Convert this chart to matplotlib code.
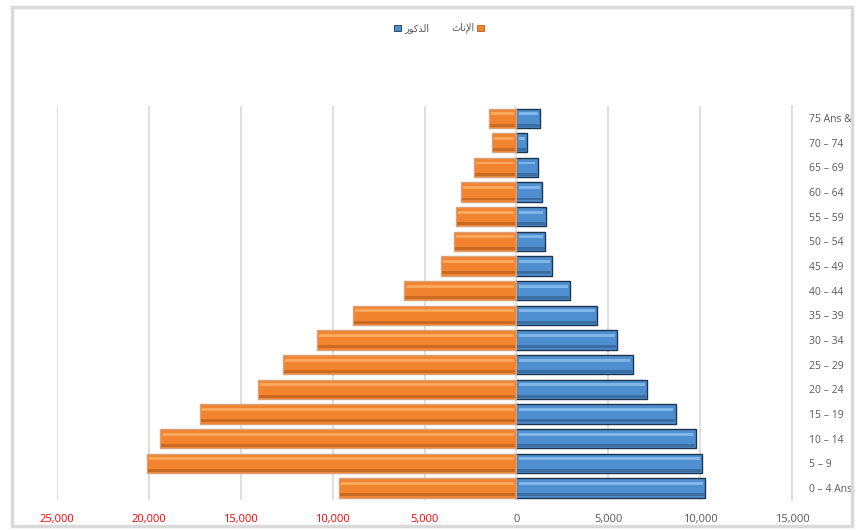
import numpy as np
import matplotlib.pyplot as plt
from matplotlib.patches import Rectangle

plt.rcParams['font.family'] = ['Open Sans', 'DejaVu Sans']

# age groups, bottom to top
ages = ["0 – 4 Ans", "5 – 9", "10 – 14", "15 – 19", "20 – 24", "25 – 29",
        "30 – 34", "35 – 39", "40 – 44", "45 – 49", "50 – 54", "55 – 59",
        "60 – 64", "65 – 69", "70 – 74", "75 Ans &"]
males = [10290, 10110, 9750, 8670, 7130, 6320, 5490, 4390,
         2940, 1950, 1580, 1590, 1400, 1150, 600, 1300]
females = [9640, 20120, 19380, 17210, 14070, 12700, 10870, 8890,
           6100, 4120, 3400, 3290, 3020, 2310, 1320, 1500]
xticks = [-25000, -20000, -15000, -10000, -5000, 0, 5000, 10000, 15000]

# legend labels, shaped arabic (presentation forms, visual order)
lab_m = "\ufead\ufeee\ufedb\ufeac\ufedf\ufe8d"   # الذكور
lab_f = "\ufe99\ufe8e\ufee7\ufef9\ufe8d"         # الإناث

fig = plt.figure(figsize=(8.59, 5.29), dpi=100)
ax = fig.add_axes([0.0664, 0.0543, 0.8556, 0.7457])

y = np.arange(len(ages))
m = np.array(males)
f = -np.array(females)

h = 0.78
blue, blue_hi, blue_dk, blue_ed = "#4f8fd0", "#7fb6e8", "#3b6fa3", "#1c3550"
ora, ora_hi, ora_dk, ora_ed = "#f28430", "#f9a85c", "#cc6a22", "#d9a27a"

# base bars
ax.barh(y, m, height=h, color=blue, edgecolor=blue_ed, linewidth=1.0, zorder=3)
ax.barh(y, f, height=h, color=ora, edgecolor=ora_ed, linewidth=1.0, zorder=3)
# dark lower bevel
ax.barh(y - 0.28, m - 100, left=50, height=0.12, color=blue_dk, linewidth=0, zorder=4)
ax.barh(y - 0.28, f + 100, left=-50, height=0.12, color=ora_dk, linewidth=0, zorder=4)
# light upper bevel
ax.barh(y + 0.18, m - 240, left=120, height=0.12, color=blue_hi, linewidth=0, zorder=4)
ax.barh(y + 0.18, f + 240, left=-120, height=0.12, color=ora_hi, linewidth=0, zorder=4)

ax.set_xlim(-25000, 15000)
ax.set_ylim(-0.5, len(ages) - 0.5)
ax.set_xticks(xticks)
ax.set_xticklabels([f"{abs(v):,}" for v in xticks], fontsize=8)
for t, v in zip(ax.get_xticklabels(), xticks):
    t.set_color("red" if v < 0 else "#595959")
ax.tick_params(axis='x', length=0, pad=10)

ax.yaxis.tick_right()
ax.set_yticks(y)
ax.set_yticklabels(ages, fontsize=7.5, color="#595959")
ax.tick_params(axis='y', length=0, pad=12)

ax.grid(axis='x', color="#d9d9d9", linewidth=1.2, zorder=0)
for s in ['top', 'left', 'bottom']:
    ax.spines[s].set_visible(False)
ax.spines['right'].set_color("#d9d9d9")
ax.spines['right'].set_linewidth(1.2)

# legend (drawn by hand to keep right-to-left order)
W, H = 859, 529
fig.patches.append(Rectangle((394 / W, 1 - 31 / H), 7 / W, 6 / H,
                             transform=fig.transFigure, facecolor=blue,
                             edgecolor=blue_ed, linewidth=0.6))
fig.text(404 / W, 1 - 28 / H, lab_m, fontsize=7, color="#595959",
         va='center', ha='left', family='DejaVu Sans')
fig.text(475 / W, 1 - 28 / H, lab_f, fontsize=7, color="#595959",
         va='center', ha='right', family='DejaVu Sans')
fig.patches.append(Rectangle((477 / W, 1 - 31 / H), 7 / W, 6 / H,
                             transform=fig.transFigure, facecolor=ora,
                             edgecolor="#b85c1c", linewidth=0.6))

# chart frame
fig.patches.append(Rectangle((12 / W, 3 / H), 840 / W, 519 / H,
                             transform=fig.transFigure, fill=False,
                             edgecolor="#d9d9d9", linewidth=2.5))

fig.savefig("out.png", dpi=100)
